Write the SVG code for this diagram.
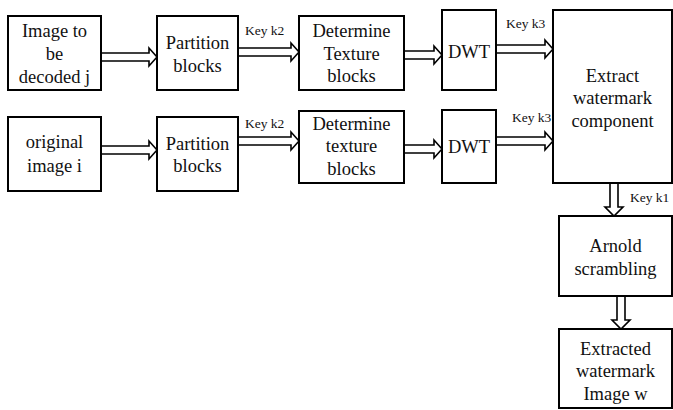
<svg xmlns="http://www.w3.org/2000/svg" width="673" height="410" viewBox="0 0 673 410" font-family="'Liberation Serif', 'Times New Roman', serif">
<style>
rect{fill:#fff;stroke:#000;stroke-width:2}
text{font-family:'Liberation Serif','Times New Roman',serif;font-size:18.5px;fill:#111;text-anchor:middle}
text.k{font-size:13.5px;text-anchor:start}
.ar path{fill:#fff;stroke:#000;stroke-width:1.6;stroke-linejoin:miter}
</style>
<rect width="673" height="410" style="fill:#fff;stroke:none"/>
<g id="connectors" class="ar">
<path d="M101,53 H149 V48 L157,57 L149,66 V61 H101"/>
<path d="M101,146 H149 V141 L157,150 L149,159 V154 H101"/>
<path d="M238,48 H291 V43 L299,52 L291,61 V56 H238"/>
<path d="M238,137 H291 V132 L299,141 L291,150 V145 H238"/>
<path d="M404,51 H434 V46 L442,55 L434,64 V59 H404"/>
<path d="M404,145 H434 V140 L442,149 L434,158 V153 H404"/>
<path d="M496,45 H545 V40 L553,49 L545,58 V53 H496"/>
<path d="M496,137 H545 V132 L553,141 L545,150 V145 H496"/>
<path d="M610,183 V207 H605 L614,216 L623,207 H618 V183"/>
<path d="M617,296 V320 H612 L621,329 L630,320 H625 V296"/>
</g>
<g id="n_decoded"><rect x="8" y="16" width="93" height="74"/><text x="54.5" y="37">Image  to</text><text x="54.5" y="60">be</text><text x="54.5" y="83">decoded j</text></g>
<g id="n_original"><rect x="8" y="117" width="93" height="74"/><text x="54.5" y="148">original</text><text x="54.5" y="172">image i</text></g>
<g id="n_part1"><rect x="157" y="16" width="81" height="74"/><text x="197.5" y="49">Partition</text><text x="197.5" y="72">blocks</text></g>
<g id="n_part2"><rect x="157" y="117" width="81" height="74"/><text x="197.5" y="150">Partition</text><text x="197.5" y="172">blocks</text></g>
<g id="n_det1"><rect x="299" y="16" width="105" height="74"/><text x="351.5" y="37">Determine</text><text x="351.5" y="60">Texture</text><text x="351.5" y="82">blocks</text></g>
<g id="n_det2"><rect x="299" y="111" width="105" height="72"/><text x="351.5" y="130">Determine</text><text x="351.5" y="152">texture</text><text x="351.5" y="175">blocks</text></g>
<g id="n_dwt1"><rect x="442" y="10" width="54" height="80"/><text x="469" y="58">DWT</text></g>
<g id="n_dwt2"><rect x="442" y="110" width="54" height="73"/><text x="469" y="153">DWT</text></g>
<g id="n_extract"><rect x="553" y="10" width="119" height="173"/><text x="612.5" y="82">Extract</text><text x="612.5" y="104">watermark</text><text x="612.5" y="127">component</text></g>
<g id="n_arnold"><rect x="559" y="216" width="113" height="80"/><text x="615.5" y="252">Arnold</text><text x="615.5" y="275">scrambling</text></g>
<g id="n_result"><rect x="559" y="329" width="113" height="79"/><text x="615.5" y="355">Extracted</text><text x="615.5" y="377">watermark</text><text x="615.5" y="400">Image w</text></g>
<g id="labels">
<text class="k" x="245" y="35">Key k2</text>
<text class="k" x="245" y="128">Key k2</text>
<text class="k" x="506" y="28">Key k3</text>
<text class="k" x="512" y="122">Key k3</text>
<text class="k" x="630" y="202">Key k1</text>
</g>
</svg>
